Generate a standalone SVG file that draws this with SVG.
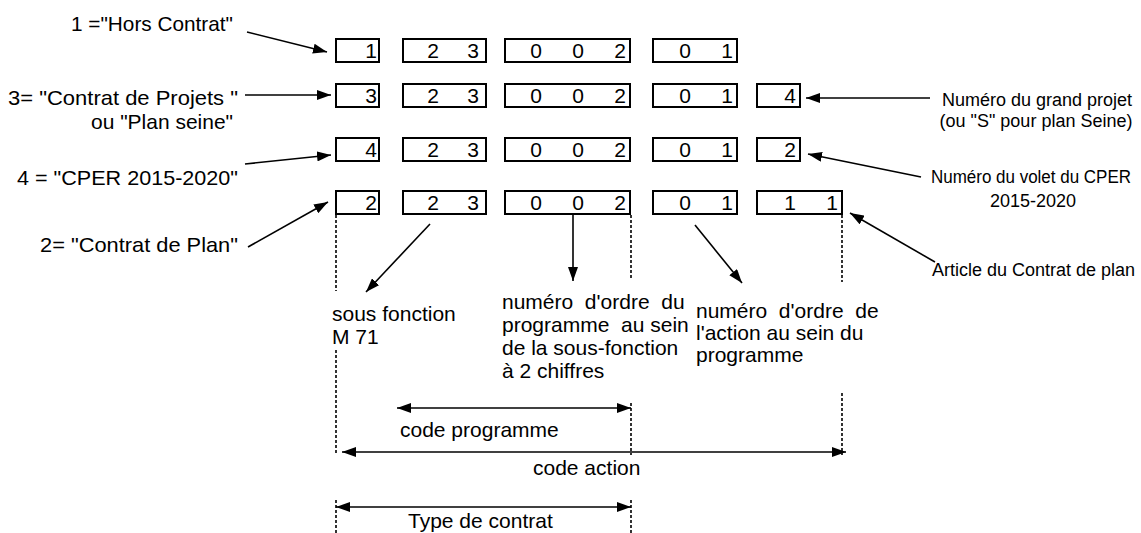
<svg xmlns="http://www.w3.org/2000/svg" width="1141" height="533" viewBox="0 0 1141 533">
<style>
text{font-family:"Liberation Sans",Arial,sans-serif;fill:#000}
.lbl{font-size:21px}
.sm{font-size:18px}
.dg{font-size:21px;text-anchor:middle}
.box{fill:#fff;stroke:#000;stroke-width:2}
.ln{stroke:#000;stroke-width:1.6;fill:none}
.dash{stroke:#000;stroke-width:1.6;stroke-dasharray:3 2;fill:none}
</style>
<defs>
<marker id="ah" viewBox="0 0 14 10" refX="14" refY="5" markerWidth="14" markerHeight="10" markerUnits="userSpaceOnUse" orient="auto-start-reverse">
<path d="M0,0 L14,5 L0,10 z" fill="#000"/>
</marker>
</defs>
<rect width="1141" height="533" fill="#fff"/>

<g id="labels-left">
<text class="lbl" x="71" y="31" textLength="162" lengthAdjust="spacingAndGlyphs">1 ="Hors Contrat"</text>
<text class="lbl" x="8" y="105" textLength="230" lengthAdjust="spacingAndGlyphs">3= "Contrat de Projets "</text>
<text class="lbl" x="91" y="129" textLength="142" lengthAdjust="spacingAndGlyphs">ou "Plan seine"</text>
<text class="lbl" x="17" y="185" textLength="221" lengthAdjust="spacingAndGlyphs">4 = "CPER 2015-2020"</text>
<text class="lbl" x="40" y="252" textLength="198" lengthAdjust="spacingAndGlyphs">2= "Contrat de Plan"</text>
</g>

<g id="row1">
<rect class="box" x="336" y="39" width="43" height="23"/>
<rect class="box" x="403" y="39" width="83" height="23"/>
<rect class="box" x="505" y="39" width="125" height="23"/>
<rect class="box" x="653" y="39" width="84" height="23"/>
<text class="dg" x="371" y="58">1</text>
<text class="dg" x="433" y="58">2</text><text class="dg" x="473" y="58">3</text>
<text class="dg" x="536" y="58">0</text><text class="dg" x="578" y="58">0</text><text class="dg" x="620" y="58">2</text>
<text class="dg" x="685" y="58">0</text><text class="dg" x="727" y="58">1</text>
</g>

<g id="row2">
<rect class="box" x="336" y="84" width="43" height="23"/>
<rect class="box" x="403" y="84" width="83" height="23"/>
<rect class="box" x="505" y="84" width="125" height="23"/>
<rect class="box" x="653" y="84" width="84" height="23"/>
<rect class="box" x="757" y="84" width="43" height="23"/>
<text class="dg" x="371" y="103">3</text>
<text class="dg" x="433" y="103">2</text><text class="dg" x="473" y="103">3</text>
<text class="dg" x="536" y="103">0</text><text class="dg" x="578" y="103">0</text><text class="dg" x="620" y="103">2</text>
<text class="dg" x="685" y="103">0</text><text class="dg" x="727" y="103">1</text>
<text class="dg" x="790" y="103">4</text>
</g>

<g id="row3">
<rect class="box" x="336" y="138" width="43" height="23"/>
<rect class="box" x="403" y="138" width="83" height="23"/>
<rect class="box" x="505" y="138" width="125" height="23"/>
<rect class="box" x="653" y="138" width="84" height="23"/>
<rect class="box" x="757" y="138" width="43" height="23"/>
<text class="dg" x="371" y="157">4</text>
<text class="dg" x="433" y="157">2</text><text class="dg" x="473" y="157">3</text>
<text class="dg" x="536" y="157">0</text><text class="dg" x="578" y="157">0</text><text class="dg" x="620" y="157">2</text>
<text class="dg" x="685" y="157">0</text><text class="dg" x="727" y="157">1</text>
<text class="dg" x="790" y="157">2</text>
</g>

<g id="row4">
<rect class="box" x="336" y="191" width="43" height="23"/>
<rect class="box" x="403" y="191" width="83" height="23"/>
<rect class="box" x="505" y="191" width="125" height="23"/>
<rect class="box" x="653" y="191" width="84" height="23"/>
<rect class="box" x="757" y="191" width="85" height="23"/>
<text class="dg" x="371" y="210">2</text>
<text class="dg" x="433" y="210">2</text><text class="dg" x="473" y="210">3</text>
<text class="dg" x="536" y="210">0</text><text class="dg" x="578" y="210">0</text><text class="dg" x="620" y="210">2</text>
<text class="dg" x="685" y="210">0</text><text class="dg" x="727" y="210">1</text>
<text class="dg" x="790" y="210">1</text><text class="dg" x="832" y="210">1</text>
</g>

<g id="labels-right">
<text class="sm" x="1037" y="106" text-anchor="middle">Numéro du grand projet</text>
<text class="sm" x="1036" y="127" text-anchor="middle">(ou "S" pour plan Seine)</text>
<text class="sm" x="931" y="183" textLength="200" lengthAdjust="spacingAndGlyphs">Numéro du volet du CPER</text>
<text class="sm" x="1033" y="207" text-anchor="middle">2015-2020</text>
<text class="sm" x="932" y="276">Article du Contrat de plan</text>
</g>

<g id="labels-mid">
<text class="lbl" x="332" y="321">sous fonction</text>
<text class="lbl" x="332" y="344">M 71</text>
<text class="lbl" x="502" y="309" xml:space="preserve">numéro  d'ordre  du</text>
<text class="lbl" x="502" y="332" xml:space="preserve">programme  au sein</text>
<text class="lbl" x="502" y="355">de la sous-fonction</text>
<text class="lbl" x="502" y="378">à 2 chiffres</text>
<text class="lbl" x="696" y="318" xml:space="preserve">numéro  d'ordre  de</text>
<text class="lbl" x="696" y="340">l'action au sein du</text>
<text class="lbl" x="696" y="362">programme</text>
<text class="lbl" x="400" y="437">code programme</text>
<text class="lbl" x="533" y="475">code action</text>
<text class="lbl" x="408" y="528">Type de contrat</text>
</g>

<g id="connectors">
<line class="ln" x1="247" y1="32" x2="327" y2="52" marker-end="url(#ah)"/>
<line class="ln" x1="245" y1="95" x2="331" y2="95" marker-end="url(#ah)"/>
<line class="ln" x1="245" y1="164" x2="331" y2="155" marker-end="url(#ah)"/>
<line class="ln" x1="248" y1="247" x2="328" y2="202" marker-end="url(#ah)"/>
<line class="ln" x1="930" y1="98" x2="806" y2="98" marker-end="url(#ah)"/>
<line class="ln" x1="921" y1="177" x2="808" y2="154" marker-end="url(#ah)"/>
<line class="ln" x1="935" y1="262" x2="850" y2="213" marker-end="url(#ah)"/>
<line class="ln" x1="430" y1="224" x2="366" y2="292" marker-end="url(#ah)"/>
<line class="ln" x1="573" y1="214" x2="573" y2="281" marker-end="url(#ah)"/>
<line class="ln" x1="695" y1="225" x2="742" y2="283" marker-end="url(#ah)"/>
<line class="ln" x1="397" y1="408" x2="631" y2="408" marker-start="url(#ah)" marker-end="url(#ah)"/>
<line class="ln" x1="342" y1="452" x2="846" y2="452" marker-start="url(#ah)" marker-end="url(#ah)"/>
<line class="ln" x1="336" y1="507" x2="631" y2="507" marker-start="url(#ah)" marker-end="url(#ah)"/>
<path class="dash" d="M336,215 V291 M336,350 V453 M336,500 V533"/>
<path class="dash" d="M631,215 V280 M631,403 V455 M631,500 V533"/>
<path class="dash" d="M842,215 V282 M842,393 V455"/>
</g>
</svg>
